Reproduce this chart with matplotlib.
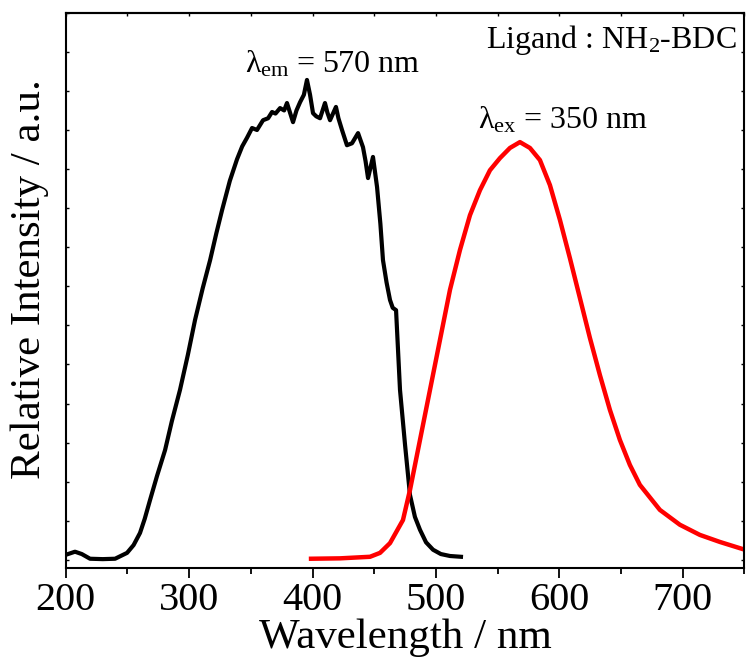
import matplotlib
matplotlib.use("Agg")
import matplotlib.pyplot as plt
import matplotlib.ticker as ticker

# --- Data ---

# excitation spectrum (black, monitored at 570 nm)
ex_wl = [200, 207.5, 213, 219.7, 230, 240, 249.7, 255, 260.2, 264, 268.3, 274, 280.5,
         286, 292.6, 299, 304.8, 311, 317, 322, 326.7, 333, 338.8, 343, 346.9, 351,
         355, 359.9, 364, 367.2, 370, 373.7, 377, 379.3, 384.2, 387, 389.9, 393,
         395.5, 398, 400.4, 403, 406.1, 410.1, 412, 414.2, 419.0, 421, 423.9,
         427.9, 432.0, 436.9, 440.9, 443, 445.0, 449.0, 452.3, 455, 457.1, 460,
         462.8, 465, 467.7, 470.9, 475, 479, 483, 487.1, 492, 497.7, 504, 511.4, 520.3]
ex_int = [0.13, 0.21, 0.15, 0.03, 0.02, 0.03, 0.18, 0.38, 0.69, 1.05, 1.53, 2.15, 2.81,
          3.55, 4.35, 5.25, 6.14, 6.95, 7.67, 8.35, 8.95, 9.7, 10.25, 10.58, 10.8,
          11.05, 11.0, 11.25, 11.3, 11.46, 11.42, 11.56, 11.5, 11.69, 11.2, 11.5,
          11.71, 11.9, 12.28, 11.9, 11.43, 11.35, 11.30, 11.69, 11.45, 11.25, 11.59,
          11.3, 11.0, 10.61, 10.66, 10.92, 10.56, 10.2, 9.77, 10.31, 9.54, 8.6, 7.67,
          7.1, 6.65, 6.45, 6.39, 4.35, 2.94, 1.66, 1.1, 0.77, 0.45, 0.26, 0.15, 0.10, 0.08]

# emission spectrum (red, excited at 350 nm)
em_wl = [398.8, 422.3, 446.6, 454.7, 462.8, 473.3, 479, 487.1, 495.2, 503.3, 511.4,
         519.5, 527.6, 535.7, 543.8, 551.9, 560, 568.1, 576.2, 584.3, 592.4, 600.5,
         608.6, 616.7, 624.8, 632.9, 641.0, 649.1, 657.2, 665.3, 681.5, 697.7,
         713.9, 730.1, 750.4]
em_int = [0.03, 0.04, 0.08, 0.18, 0.43, 1.02, 1.79, 3.07, 4.35, 5.63, 6.91, 7.93,
          8.82, 9.46, 9.97, 10.28, 10.54, 10.69, 10.54, 10.23, 9.59, 8.70, 7.72,
          6.70, 5.68, 4.73, 3.84, 3.07, 2.43, 1.92, 1.28, 0.90, 0.64, 0.46, 0.26]

X_MAJOR = [200, 300, 400, 500, 600, 700]

# --- Style ---
FONT = "Liberation Serif"
plt.rcParams["font.family"] = [FONT, "DejaVu Serif"]
plt.rcParams["mathtext.fontset"] = "custom"
plt.rcParams["mathtext.rm"] = FONT
plt.rcParams["mathtext.it"] = FONT + ":italic"

FS_TICK = 29
FS_LABEL = 31
FS_NOTE = 23

fig = plt.figure(figsize=(7.47, 6.63), dpi=100)
ax = fig.add_axes([0.088, 0.1437, 0.9085, 0.8371])

ax.plot(ex_wl, ex_int, color="black", linewidth=3.0, solid_joinstyle="round")
ax.plot(em_wl, em_int, color="#ff0000", linewidth=3.2, solid_joinstyle="round")

ax.set_xlim(200, 750)
ax.set_ylim(-0.2, 14.0)

# bottom axis: outward ticks with labels
ax.xaxis.set_major_locator(ticker.FixedLocator(X_MAJOR))
ax.xaxis.set_minor_locator(ticker.MultipleLocator(50))
ax.tick_params(axis="x", which="major", direction="out", length=7, width=1.3,
               labelsize=FS_TICK, pad=3)
ax.tick_params(axis="x", which="minor", direction="out", length=4.5, width=1.3)

# top axis: short inward ticks
top = ax.secondary_xaxis("top")
top.xaxis.set_major_locator(ticker.MultipleLocator(50))
top.tick_params(axis="x", direction="in", length=2.5, width=1.0, labeltop=False)
top.spines["top"].set_linewidth(1.5)

# y axis: no labels, inward ticks both sides
ax.yaxis.set_major_locator(ticker.MultipleLocator(1))
ax.tick_params(axis="y", direction="in", length=2.5, width=1.0,
               left=True, right=True, labelleft=False)

for s in ax.spines.values():
    s.set_linewidth(1.5)

ax.set_xlabel("Wavelength / nm", fontsize=FS_LABEL, labelpad=0)
ax.set_ylabel("Relative Intensity / a.u.", fontsize=FS_LABEL)
ax.yaxis.set_label_coords(-0.024, 0.52)

# annotations
ax.text(345.3, 12.46, r"λ$_{\mathrm{em}}$ = 570 nm", fontsize=FS_NOTE,
        ha="left", va="baseline")
ax.text(534, 11.05, r"λ$_{\mathrm{ex}}$ = 350 nm", fontsize=FS_NOTE,
        ha="left", va="baseline")
ax.text(744, 13.09, r"Ligand : NH$_{\mathrm{2}}$-BDC", fontsize=FS_NOTE,
        ha="right", va="baseline")

fig.savefig("out.png", dpi=100)
